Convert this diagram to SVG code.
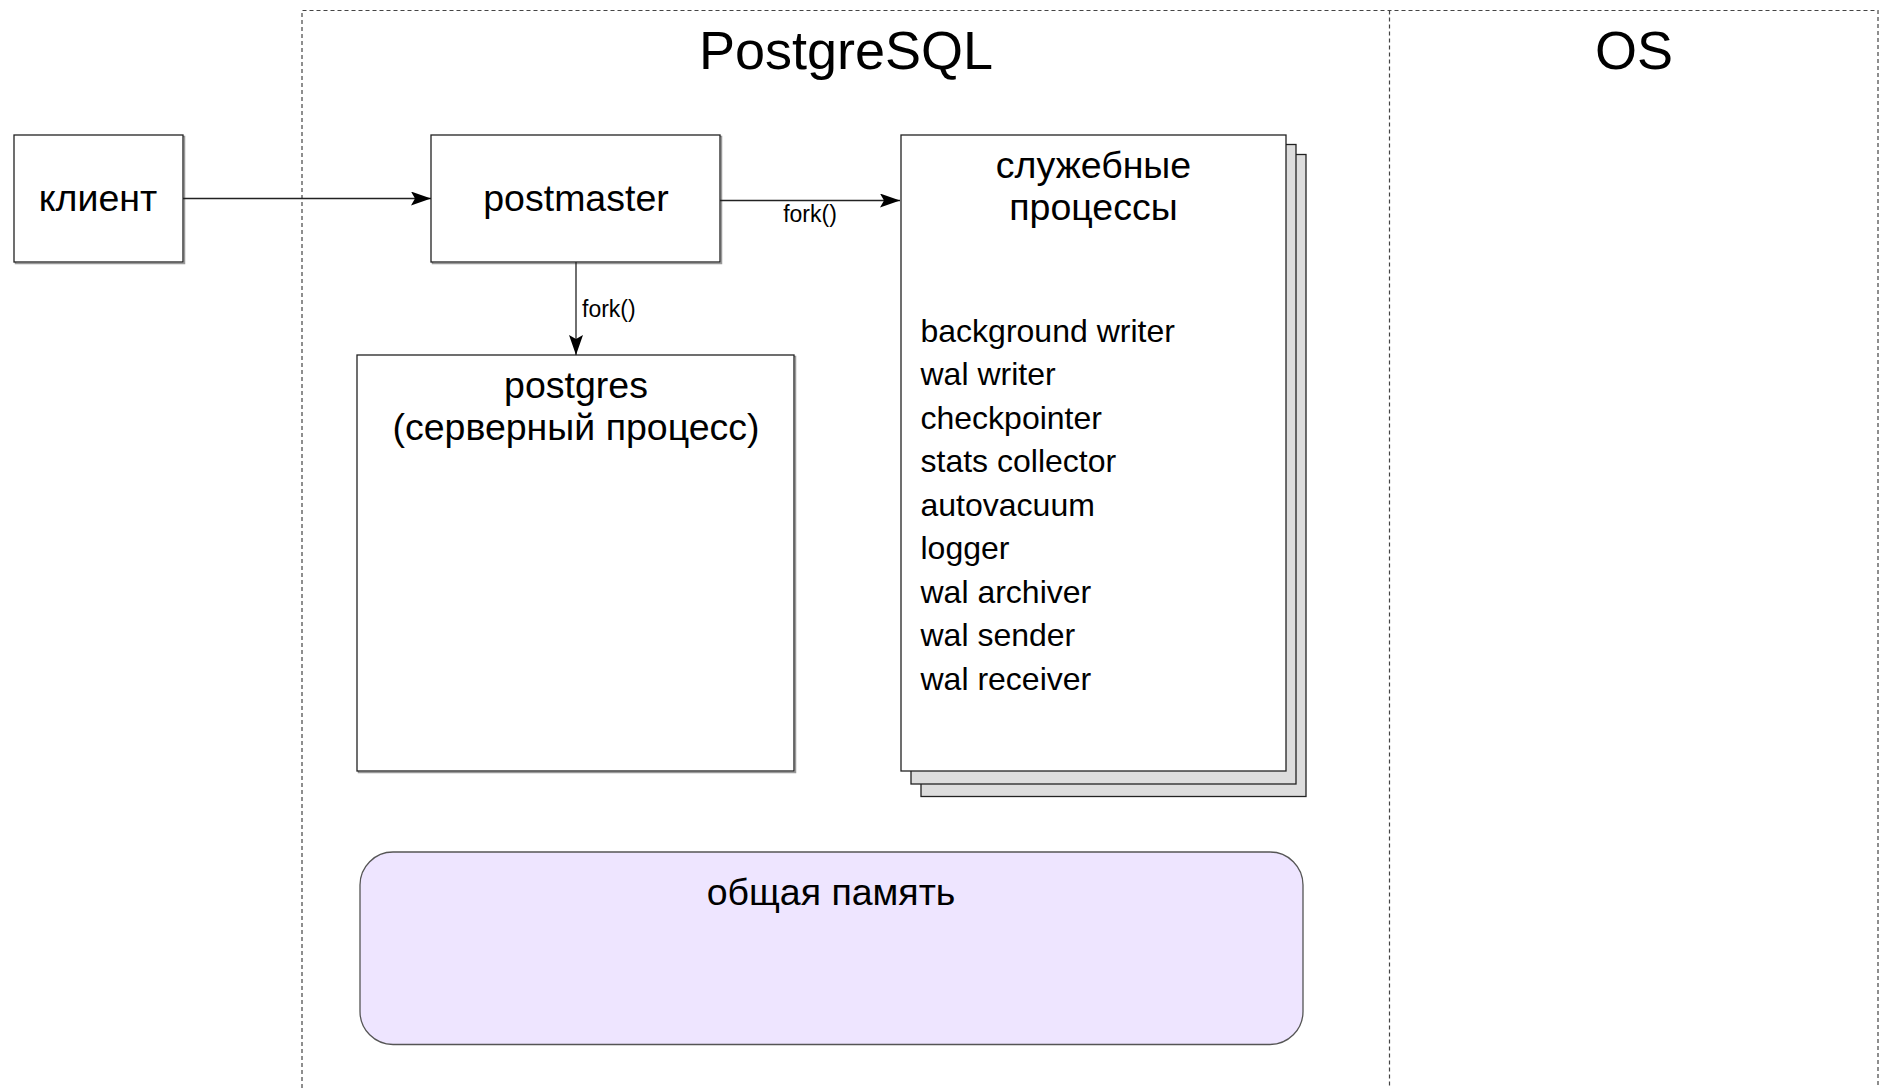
<svg xmlns="http://www.w3.org/2000/svg" width="1884" height="1088" viewBox="0 0 1884 1088">
<defs>
<style>
text{font-family:"Liberation Sans",Arial,sans-serif;fill:#000}
.frame{fill:none;stroke:#444;stroke-width:1.2;stroke-dasharray:4,3}
.box{fill:#fff;stroke:#222;stroke-width:1.3}
.shadow{fill:none;stroke:#999;stroke-width:1.5}
.stack{fill:#dddddd;stroke:#222;stroke-width:1.3}
.mem{fill:#eee5ff;stroke:#555;stroke-width:1.3}
.conn{fill:none;stroke:#222;stroke-width:1.3}
.t36{font-size:37.5px}
.t32{font-size:32px}
.t52{font-size:54px}
.lbl{font-size:23px}
.c{text-anchor:middle}
</style>
<marker id="arr" viewBox="0 0 20 14" refX="20" refY="7" markerWidth="20" markerHeight="14" markerUnits="userSpaceOnUse" orient="auto">
<path d="M0,0 L20,7 L0,14 L4,7 z" fill="#000"/>
</marker>
</defs>

<g id="frames">
<path class="frame" d="M302,1088 V10.5 H1878 V1088"/>
<path class="frame" d="M1389.5,10.5 V1088"/>
<text class="t52 c" x="846" y="69">PostgreSQL</text>
<text class="t52 c" x="1634" y="69">OS</text>
</g>

<g id="client">
<rect class="shadow" x="15.5" y="136.5" width="169" height="127"/>
<rect class="box" x="14" y="135" width="169" height="127"/>
<text class="t36 c" x="98" y="211">клиент</text>
</g>

<g id="postmaster">
<rect class="shadow" x="432.5" y="136.5" width="289" height="127"/>
<rect class="box" x="431" y="135" width="289" height="127"/>
<text class="t36 c" x="576" y="211">postmaster</text>
</g>

<g id="postgres">
<rect class="shadow" x="358.5" y="356.5" width="437" height="416"/>
<rect class="box" x="357" y="355" width="437" height="416"/>
<text class="t36 c" x="576" y="397.5">postgres</text>
<text class="t36 c" x="576" y="439.5">(серверный процесс)</text>
</g>

<g id="service">
<rect class="stack" x="921" y="154.5" width="385" height="642"/>
<rect class="stack" x="911" y="144.5" width="385" height="639.5"/>
<rect class="box" x="901" y="135" width="385" height="636"/>
<text class="t36 c" x="1093.5" y="177.5">служебные</text>
<text class="t36 c" x="1093.5" y="220">процессы</text>
<text class="t32" x="920.5" y="341.5">background writer</text>
<text class="t32" x="920.5" y="385">wal writer</text>
<text class="t32" x="920.5" y="428.5">checkpointer</text>
<text class="t32" x="920.5" y="472">stats collector</text>
<text class="t32" x="920.5" y="515.5">autovacuum</text>
<text class="t32" x="920.5" y="559">logger</text>
<text class="t32" x="920.5" y="602.5">wal archiver</text>
<text class="t32" x="920.5" y="646">wal sender</text>
<text class="t32" x="920.5" y="689.5">wal receiver</text>
</g>

<g id="shared-memory">
<rect class="mem" x="360" y="852" width="943" height="192.5" rx="33" ry="33"/>
<text class="t36 c" x="831" y="905">общая память</text>
</g>

<g id="connectors">
<line class="conn" x1="183" y1="198.5" x2="431" y2="198.5" marker-end="url(#arr)"/>
<line class="conn" x1="720" y1="200.5" x2="900" y2="200.5" marker-end="url(#arr)"/>
<text class="lbl c" x="810" y="222">fork()</text>
<line class="conn" x1="576" y1="262" x2="576" y2="355" marker-end="url(#arr)"/>
<text class="lbl" x="582" y="317">fork()</text>
</g>
</svg>
